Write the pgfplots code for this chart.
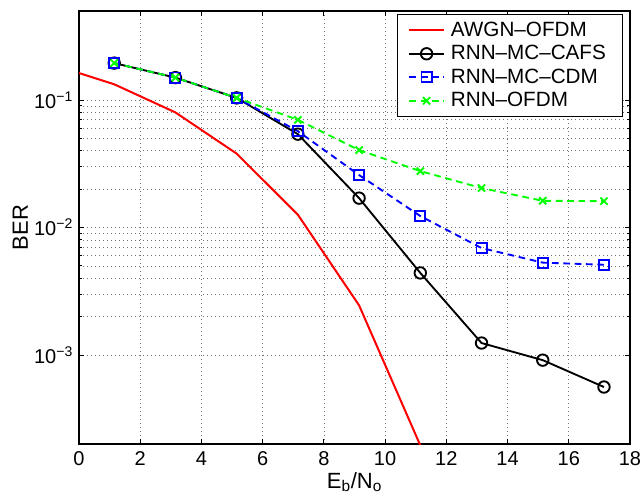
\documentclass[border=0pt]{standalone}
\usepackage{fontspec}
\setmainfont{Liberation Sans}
\usepackage{pgfplots}
\pgfplotsset{compat=1.18}
\definecolor{mred}{rgb}{1,0,0}
\definecolor{mblue}{rgb}{0,0,1}
\definecolor{mgreen}{rgb}{0,1,0}
\begin{document}
\begin{tikzpicture}
\useasboundingbox (-59.25pt,-39.75pt) rectangle (423pt,333pt);
\begin{axis}[
  at={(0,0)}, anchor=south west,
  scale only axis,
  width=413.25pt, height=324.75pt,
  ymode=log,
  xmin=0, xmax=18, ymin=2e-4, ymax=0.5,
  xtick={0,2,...,18},
  ytick={1e-3,1e-2,1e-1},
  yticklabels={\mbox{10\textsuperscript{−3}},\mbox{10\textsuperscript{−2}},\mbox{10\textsuperscript{−1}}},
  /pgf/number format/assume math mode=true,
  tick align=inside,
  major tick length=4pt, minor tick length=2.5pt,
  axis line style={line width=0.8pt},
  every tick/.style={black, line width=0.6pt},
  xmajorgrids, ymajorgrids, yminorgrids,
  major grid style={black!55, line width=0.5pt, dash pattern=on 0.5pt off 2.5pt},
  minor grid style={black!55, line width=0.5pt, dash pattern=on 0.5pt off 2.5pt},
  tick label style={font=\fontsize{15}{17}\selectfont},
  xticklabel style={yshift=-2pt},
  yticklabel style={xshift=-1pt},
  xlabel={E\textsubscript{b}/N\textsubscript{o}},
  ylabel={BER},
  label style={font=\fontsize{16.5}{19}\selectfont},
  xlabel style={at={(axis description cs:0.5,0)}, anchor=base, yshift=-33pt},
  ylabel style={at={(axis description cs:-0.1065,0.5)}, anchor=center},
  legend style={at={(rel axis cs:1,1)}, xshift=-5.25pt, yshift=-2.5pt, anchor=north east,
    font=\fontsize{15.5}{18}\selectfont, draw=black, line width=0.6pt,
    row sep=1.3pt, inner xsep=8pt, inner ysep=3.5pt,
    nodes={inner xsep=4.5pt}},
  legend cell align=left,
  legend image code/.code={\draw[mark repeat=2,mark phase=2,#1] plot coordinates {(0pt,0pt) (13pt,0pt) (26pt,0pt)};},
]
\addplot[mred, line width=1.5pt] coordinates {
(0,0.163) (1.15,0.133) (3.15,0.080) (5.15,0.038) (7.15,0.0126) (9.15,0.00245) (11.15,0.000195)
};
\addlegendentry{AWGN–OFDM}
\addplot[black, line width=1.4pt, mark=o, mark size=4.3pt, mark options={solid, line width=1.4pt}] coordinates {
(1.15,0.195) (3.15,0.150) (5.15,0.104) (7.15,0.054) (9.15,0.0170) (11.15,0.0044) (13.15,0.00124) (15.15,0.00091) (17.15,0.00056)
};
\addlegendentry{RNN–MC–CAFS}
\addplot[mblue, line width=1.4pt, dash pattern=on 5pt off 3.5pt, mark=square, mark size=3.8pt, mark options={solid, line width=1.4pt}] coordinates {
(1.15,0.195) (3.15,0.150) (5.15,0.104) (7.15,0.057) (9.15,0.0258) (11.15,0.0123) (13.15,0.0069) (15.15,0.0053) (17.15,0.0051)
};
\addlegendentry{RNN–MC–CDM}
\addplot[mgreen, line width=1.4pt, dash pattern=on 5pt off 3.5pt, mark=x, mark size=3.8pt, mark options={solid, line width=1.4pt}] coordinates {
(1.15,0.195) (3.15,0.150) (5.15,0.104) (7.15,0.070) (9.15,0.0405) (11.15,0.0277) (13.15,0.0204) (15.15,0.0162) (17.15,0.0161)
};
\addlegendentry{RNN–OFDM}
\end{axis}
\end{tikzpicture}
\end{document}
